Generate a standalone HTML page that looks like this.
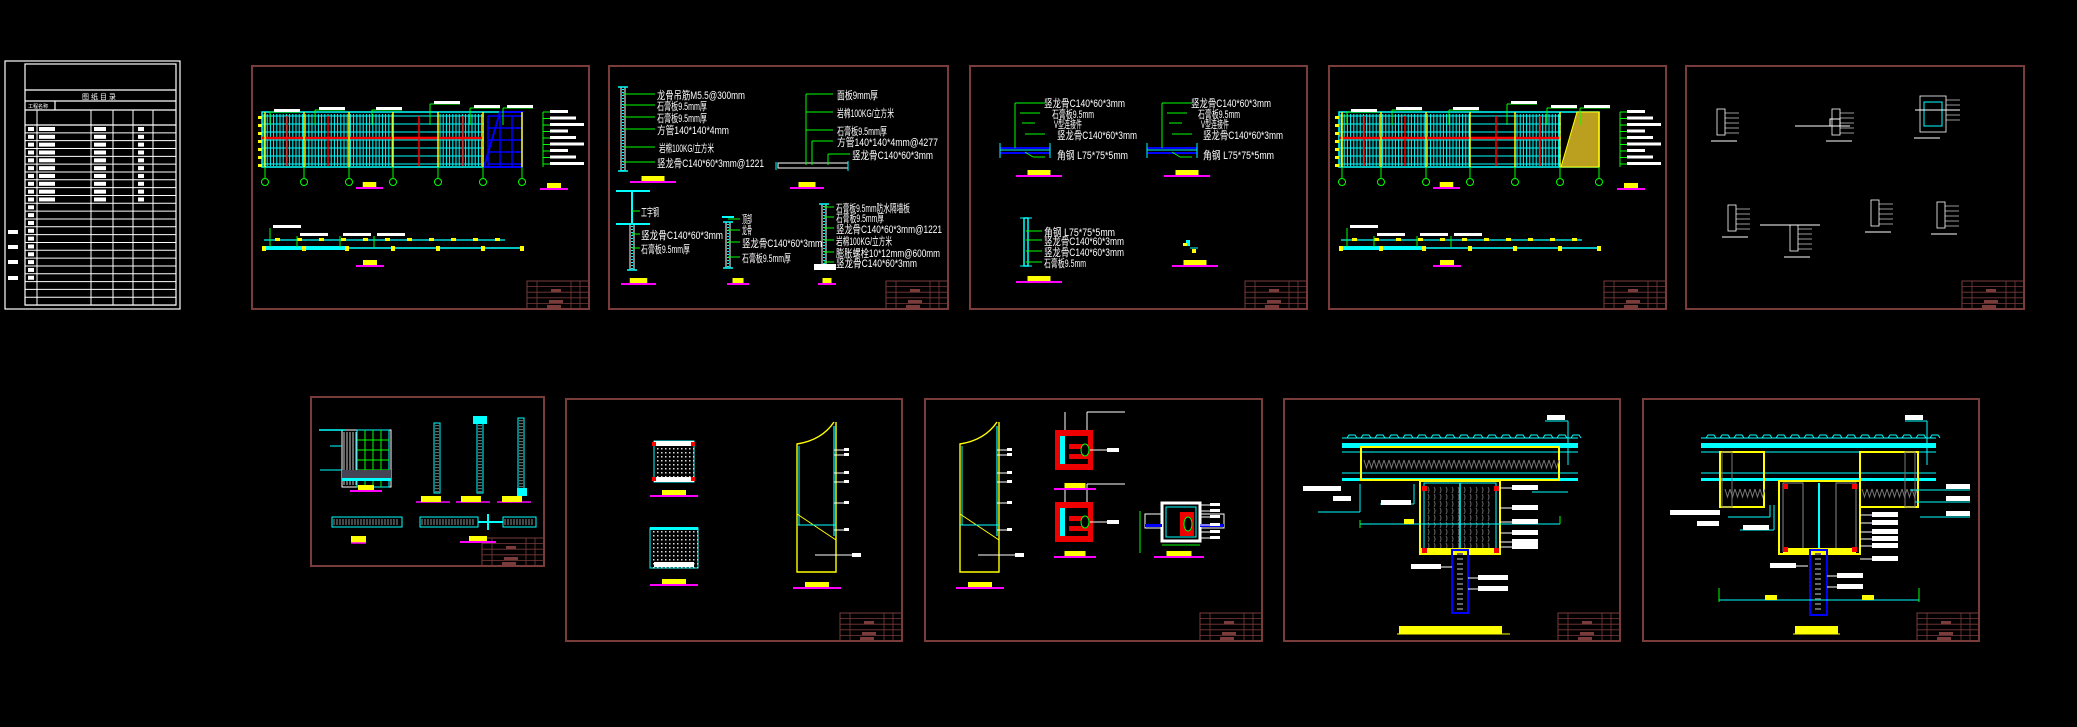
<!DOCTYPE html>
<html><head><meta charset="utf-8">
<style>
html,body{margin:0;padding:0;background:#000;width:2077px;height:727px;overflow:hidden}
svg{display:block}
text{font-family:"Liberation Sans","Noto Sans CJK SC",sans-serif}
</style></head>
<body>
<svg id="s" width="2077" height="727" viewBox="0 0 2077 727" xmlns="http://www.w3.org/2000/svg">
<rect width="2077" height="727" fill="#000"/>
<g stroke="#fff" fill="none" stroke-width="1.2">
<rect x="5" y="61" width="175" height="248"/>
<rect x="25" y="64" width="151" height="241"/>
<line x1="25" y1="90" x2="176" y2="90"/><line x1="25" y1="101" x2="176" y2="101"/><line x1="25" y1="110" x2="176" y2="110"/><line x1="25" y1="125" x2="176" y2="125"/>
<line x1="55" y1="101" x2="55" y2="110"/>
</g>
<g id="idx" stroke="#fff" stroke-width="1"></g>
<text x="82" y="99" fill="#fff" font-size="7">图 纸 目 录</text>
<text x="28" y="108" fill="#fff" font-size="5">工程名称</text>
<g id="sheets"></g>
<g font-size="11" fill="#fff" lengthAdjust="spacingAndGlyphs">
<text x="657" y="99" textLength="88" lengthAdjust="spacingAndGlyphs">龙骨吊筋M5.5@300mm</text>
<text x="657" y="110" textLength="50" lengthAdjust="spacingAndGlyphs">石膏板9.5mm厚</text>
<text x="657" y="122" textLength="50" lengthAdjust="spacingAndGlyphs">石膏板9.5mm厚</text>
<text x="657" y="134" textLength="72" lengthAdjust="spacingAndGlyphs">方管140*140*4mm</text>
<text x="659" y="152" textLength="55" lengthAdjust="spacingAndGlyphs">岩棉100KG/立方米</text>
<text x="657" y="167" textLength="107" lengthAdjust="spacingAndGlyphs">竖龙骨C140*60*3mm@1221</text>
<text x="837" y="99" textLength="41" lengthAdjust="spacingAndGlyphs">面板9mm厚</text>
<text x="837" y="117" textLength="57" lengthAdjust="spacingAndGlyphs">岩棉100KG/立方米</text>
<text x="837" y="135" textLength="50" lengthAdjust="spacingAndGlyphs">石膏板9.5mm厚</text>
<text x="837" y="146" textLength="101" lengthAdjust="spacingAndGlyphs">方管140*140*4mm@4277</text>
<text x="852" y="159" textLength="81" lengthAdjust="spacingAndGlyphs">竖龙骨C140*60*3mm</text>
<text x="641" y="216" textLength="18" lengthAdjust="spacingAndGlyphs">工字钢</text>
<text x="641" y="239" textLength="82" lengthAdjust="spacingAndGlyphs">竖龙骨C140*60*3mm</text>
<text x="641" y="253" textLength="49" lengthAdjust="spacingAndGlyphs">石膏板9.5mm厚</text>
<text x="742" y="223" textLength="10" lengthAdjust="spacingAndGlyphs">顶部</text>
<text x="742" y="234" textLength="10" lengthAdjust="spacingAndGlyphs">龙骨</text>
<text x="742" y="247" textLength="80" lengthAdjust="spacingAndGlyphs">竖龙骨C140*60*3mm</text>
<text x="742" y="262" textLength="49" lengthAdjust="spacingAndGlyphs">石膏板9.5mm厚</text>
<text x="836" y="212" textLength="74" lengthAdjust="spacingAndGlyphs">石膏板9.5mm防水隔墙板</text>
<text x="836" y="222" textLength="48" lengthAdjust="spacingAndGlyphs">石膏板9.5mm厚</text>
<text x="836" y="233" textLength="106" lengthAdjust="spacingAndGlyphs">竖龙骨C140*60*3mm@1221</text>
<text x="836" y="245" textLength="56" lengthAdjust="spacingAndGlyphs">岩棉100KG/立方米</text>
<text x="836" y="257" textLength="104" lengthAdjust="spacingAndGlyphs">膨胀螺栓10*12mm@600mm</text>
<text x="836" y="267" textLength="81" lengthAdjust="spacingAndGlyphs">竖龙骨C140*60*3mm</text>
<text x="1044" y="107" textLength="81" lengthAdjust="spacingAndGlyphs">竖龙骨C140*60*3mm</text>
<text x="1052" y="118" textLength="42" lengthAdjust="spacingAndGlyphs">石膏板9.5mm</text>
<text x="1054" y="128" textLength="28" lengthAdjust="spacingAndGlyphs">V型连接件</text>
<text x="1057" y="139" textLength="80" lengthAdjust="spacingAndGlyphs">竖龙骨C140*60*3mm</text>
<text x="1057" y="159" textLength="71" lengthAdjust="spacingAndGlyphs">角钢 L75*75*5mm</text>
<text x="1191" y="107" textLength="80" lengthAdjust="spacingAndGlyphs">竖龙骨C140*60*3mm</text>
<text x="1198" y="118" textLength="42" lengthAdjust="spacingAndGlyphs">石膏板9.5mm</text>
<text x="1201" y="128" textLength="28" lengthAdjust="spacingAndGlyphs">V型连接件</text>
<text x="1203" y="139" textLength="80" lengthAdjust="spacingAndGlyphs">竖龙骨C140*60*3mm</text>
<text x="1203" y="159" textLength="71" lengthAdjust="spacingAndGlyphs">角钢 L75*75*5mm</text>
<text x="1044" y="236" textLength="71" lengthAdjust="spacingAndGlyphs">角钢 L75*75*5mm</text>
<text x="1044" y="245" textLength="80" lengthAdjust="spacingAndGlyphs">竖龙骨C140*60*3mm</text>
<text x="1044" y="256" textLength="80" lengthAdjust="spacingAndGlyphs">竖龙骨C140*60*3mm</text>
<text x="1044" y="267" textLength="42" lengthAdjust="spacingAndGlyphs">石膏板9.5mm</text>
</g>
</svg>
<script>
const S=document.getElementById('s'),NS='http://www.w3.org/2000/svg';
function el(t,a,p){const e=document.createElementNS(NS,t);for(const k in a)e.setAttribute(k,a[k]);(p||S).appendChild(e);return e}
function L(x1,y1,x2,y2,c,w){return el('line',{x1,y1,x2,y2,stroke:c,'stroke-width':w||1})}
function R(x,y,w,h,c,f,sw){return el('rect',{x,y,width:w,height:h,stroke:c||'none',fill:f||'none','stroke-width':sw||1})}
const BR='#7a3b3b';
const ix=document.getElementById('idx');
for(let i=0;i<=23;i++){const y=125+i*7.83;el('line',{x1:25,y1:y,x2:176,y2:y},ix)}
[37,91,113,133,153].forEach(x=>el('line',{x1:x,y1:110,x2:x,y2:305},ix));
for(let i=0;i<10;i++){R(39,127+i*7.83,16,4,null,'#fff');R(94,127+i*7.83,12,4,null,'#fff');R(138,127+i*7.83,6,4,null,'#fff');}
for(let i=0;i<20;i++)R(28,127+i*7.83,6,4,null,'#fff');
[230,245,260,276].forEach(y=>R(8,y,10,4,null,'#fff'));
function sheet(x1,y1,x2,y2){R(x1,y1,x2-x1,y2-y1,BR,null,2);
 const tw=62,th=28,tx=x2-tw,ty=y2-th;R(tx,ty,tw,th,BR,null,1);
 for(let i=1;i<5;i++)L(tx,ty+i*th/5,x2,ty+i*th/5,BR,0.8);
 L(tx+10,ty,tx+10,y2,BR,0.8);L(x2-18,ty,x2-18,y2,BR,0.8);L(x2-9,ty,x2-9,y2,BR,0.8);
 R(tx+24,ty+8,10,3,null,BR);R(tx+22,ty+19,14,3,null,BR);R(tx+20,y2-4,14,3,null,BR);}
[[252,66,589,309],[609,66,948,309],[970,66,1307,309],[1329,66,1666,309],[1686,66,2024,309],
 [311,397,544,566],[566,399,902,641],[925,399,1262,641],[1284,399,1620,641],[1643,399,1979,641]].forEach(s=>sheet(...s));
function tag(x,y,w){R(x+w*0.25,y-5,w*0.5,5,null,'#ff0');L(x,y+1,x+w,y+1,'#f0f',2);}
function elev(ox,redblue){
 R(ox+262,112,260,55,'#0ff',null,1.5);
 for(let x=ox+264;x<ox+484;x+=3.2){if(x>ox+394&&x<ox+437)continue;L(x,114,x,166,'#0ff',1)}
 for(let y=116;y<166;y+=8)L(ox+262,y,ox+484,y,'#0ff',1);
 L(ox+262,138,ox+484,138,'#f00',2.5);[ox+287,ox+328,ox+419,ox+463].forEach(x=>L(x,116,x,166,'#f00',1.5));
 if(redblue){for(let y=116;y<167;y+=12)L(ox+488,y,ox+522,y,'#00f',1.5);for(let x=ox+488;x<=ox+522;x+=12)L(x,116,x,167,'#00f',1.5);el('polygon',{points:`${ox+500},112 ${ox+522},112 ${ox+522},167 ${ox+484},167`,fill:'none',stroke:'#00f','stroke-width':2})}
 else{el('polygon',{points:`${ox+500},112 ${ox+522},112 ${ox+522},167 ${ox+484},167`,fill:'#bba020',stroke:'#ff0'})}
 [ox+265,ox+304,ox+349,ox+393,ox+438,ox+483,ox+522].forEach(x=>{L(x,167,x,178,'#0f0');el('circle',{cx:x,cy:182,r:3.5,stroke:'#0f0',fill:'none'});L(x,112,x,167,'#ff0',1.5)});
 for(let y=116;y<167;y+=8)R(ox+258,y,4,3,null,'#ff0');
 L(ox+264,240,ox+505,240,'#0ff',1.2);L(ox+264,248,ox+523,248,'#0ff',1.5);R(ox+265,246,80,4,null,'#0ff');
 for(let x=ox+275;x<ox+500;x+=22)R(x,238,5,3,null,'#ff0');
 [ox+264,ox+304,ox+347,ox+393,ox+438,ox+483,ox+522].forEach(x=>R(x-2,246,4,5,null,'#ff0'));
 [[ox+270,112],[ox+315,110],[ox+372,110],[ox+430,104],[ox+470,108],[ox+503,108]].forEach(([x,y])=>{L(x,y,x,125,'#0f0');L(x,y,x+30,y,'#0f0');R(x+4,y-3,26,3,null,'#fff')});
 [[ox+270,228],[ox+297,236],[ox+340,236],[ox+374,236]].forEach(([x,y])=>{L(x,y,x,247,'#0f0');R(x+3,y-3,28,3,null,'#fff')});
 for(let i=0;i<9;i++){L(ox+543,112+i*6.5,ox+550,112+i*6.5,'#0f0');R(ox+550,110+i*6.5,18+(i%3)*8,3,null,'#fff')}
 L(ox+543,112,ox+543,167,'#0f0');
 tag(ox+356,187,27);tag(ox+540,188,28);tag(ox+356,265,28);
}
elev(0,true);elev(1077,false);
function col(x,y1,y2){R(x-2,y1,4,y2-y1,'#fff',null,1);for(let y=y1+2;y<y2;y+=3)R(x-1,y,2,1,null,'#0ff');L(x-5,y1,x+5,y1,'#0ff',1.5);L(x-5,y2,x+5,y2,'#0ff',1.5)}
col(623,87,171);[[623,94],[623,105],[623,117],[623,129],[623,147],[623,162]].forEach(([x,y])=>L(x,y,x+32,y,'#0f0'));
tag(630,181,46);
R(778,163,70,5,'#fff',null,1);L(776,162,776,170,'#0ff');L(848,161,848,171,'#0ff');
L(806,94,806,165,'#0f0');[94,112,130].forEach(y=>L(806,y,833,y,'#0f0'));L(812,141,812,165,'#0f0');L(812,141,833,141,'#0f0');L(828,154,828,165,'#0f0');L(828,154,850,154,'#0f0');
tag(790,187,34);
L(616,191,650,191,'#0ff',2);L(632,191,632,224,'#0ff',2);L(616,224,650,224,'#0ff',2);col(632,224,270);L(632,211,640,211,'#0f0');L(632,234,640,234,'#0f0');L(632,248,640,248,'#0f0');tag(621,283,35);
R(722,216,12,2,null,'#0ff');col(728,222,268);[219,230,242,257].forEach(y=>L(728,y,740,y,'#0f0'));tag(727,283,22);
col(824,204,265);[207,217,228,240,252,262].forEach(y=>L(824,y,834,y,'#0f0'));R(814,264,22,6,null,'#fff');tag(818,283,18);
function cross(x,y){L(x-25,y,x+25,y,'#00f',2);L(x-25,y+5,x+25,y+5,'#00f',2);L(x-25,y+2,x+25,y+2,'#0ff',1);L(x-25,y-5,x-25,y+10,'#0ff');L(x+25,y-5,x+25,y+10,'#0ff');L(x-10,y-45,x-10,y,'#0f0');L(x-10,y-45,x+20,y-45,'#0f0');L(x-5,y-35,x+15,y-35,'#0f0');L(x-3,y-25,x+10,y-25,'#0f0');L(x,y-14,x+20,y-14,'#0f0');L(x,y+4,x+8,y+9,'#0f0');L(x+8,y+9,x+20,y+9,'#0f0')}
cross(1025,148);cross(1172,148);tag(1016,175,46);tag(1164,175,46);
R(1024,218,4,48,'#0ff',null,1.5);L(1020,218,1032,218,'#0ff');L(1020,266,1032,266,'#0ff');[231,240,251,262].forEach(y=>L(1026,y,1042,y,'#0f0'));tag(1016,281,46);
R(1186,240,4,6,null,'#0ff');R(1183,243,4,3,null,'#ff0');R(1192,249,4,4,null,'#ff0');L(1190,248,1198,248,'#0ff');tag(1172,265,46);
[[1717,109],[1832,109],[1920,96],[1728,205],[1790,225],[1871,200],[1937,202]].forEach(([x,y],i)=>{
 R(x,y,i==2?26:8,i==2?36:26,'#fff',null,0.8);if(i==2){R(x+4,y+6,18,24,'#0ff');}
 for(let k=0;k<5;k++)L(x+(i==2?26:8),y+4+k*5,x+(i==2?40:22),y+4+k*5,'#fff',0.6);
 L(x-6,y+(i==2?42:32),x+20,y+(i==2?42:32),'#fff',1);});
L(1795,126,1850,126,'#fff');R(1830,119,10,7,'#fff');L(1915,110,1960,110,'#fff');L(1760,225,1820,225,'#fff');
R(342,430,49,57,'#fff',null,1);for(let x=344;x<357;x+=3)L(x,432,x,485,'#fff',0.8);
R(357,430,32,57,'#0ff');for(let x=365;x<389;x+=8)L(x,430,x,487,'#0f0');for(let y=440;y<485;y+=10)L(357,y,389,y,'#0f0');
R(342,470,49,8,null,'#445');R(342,478,49,3,null,'#0ff');tag(350,490,32);
L(319,430,345,430,'#0ff',1.5);L(330,446,342,446,'#0ff');L(320,470,342,470,'#0ff');
[[437,423,493],[480,423,493],[521,418,493]].forEach(([x,a,b])=>{R(x-3,a,6,b-a,'#0ff',null,1);for(let y=a+2;y<b;y+=3)R(x-2,y,4,1.2,null,'#666');});
R(473,416,14,8,null,'#0ff');R(517,488,10,8,null,'#0ff');
[[416,502],[456,502],[497,502]].forEach(([x,y])=>{L(x,y,x+34,y,'#f0f',1.5);R(x+5,y-6,20,6,null,'#ff0')});
R(332,517,70,10,'#0ff');for(let x=334;x<400;x+=3)L(x,519,x,525,'#ccc',0.7);
R(420,517,58,10,'#0ff');for(let x=422;x<476;x+=3)L(x,519,x,525,'#ccc',0.7);
R(503,517,33,10,'#0ff');for(let x=505;x<534;x+=3)L(x,519,x,525,'#ccc',0.7);L(478,522,503,522,'#0ff',2);L(488,514,488,530,'#0ff',2);
R(351,536,15,7,null,'#ff0');L(351,543,366,543,'#f0f',1.5);tag(460,541,36);
function hatch(x,y,w,h,c){R(x,y,w,h,'#0ff',null,1);for(let i=x+3;i<x+w;i+=4)for(let j=y+3;j<y+h;j+=4)R(i,j,1.5,1.5,null,c||'#ddd');}
hatch(654,441,40,41);R(654,441,40,5,null,'#fff');R(654,477,40,5,null,'#fff');[654,693].forEach(x=>{R(x-2,442,4,4,null,'#f00');R(x-2,477,4,4,null,'#f00')});
hatch(650,528,48,40);R(650,527,48,3,null,'#0ff');R(654,562,40,5,null,'#fff');
tag(650,495,48);tag(650,584,48);
function tower(x){el('path',{d:`M${x+37} 422 Q${x+25} 440 ${x} 444 L${x} 572 L${x+39} 572 L${x+39} 422`,fill:'none',stroke:'#ff0','stroke-width':1.4});
 L(x+37,426,x+37,536,'#0ff',1.2);L(x+2,446,x+2,525,'#0ff',1);L(x,514,x+39,540,'#ff0',1);L(x,525,x+39,525,'#0ff',1);
 [450,455,473,482,503,530].forEach(y=>{L(x+37,y,x+47,y,'#fff');R(x+47,y-2,5,3,null,'#fff')});L(x+18,555,x+55,555,'#fff');R(x+55,553,9,4,null,'#fff');tag(x-4,587,48);}
tower(797);tower(960);
function redbox(x,y){R(x,y,38,40,null,'#e00');R(x+5,y+6,28,28,null,'#000');R(x+5,y+6,5,28,null,'#0ff');R(x+14,y+14,19,5,null,'#e00');R(x+14,y+24,19,5,null,'#e00');el('ellipse',{cx:x+30,cy:y+20,rx:4,ry:6,stroke:'#0f0',fill:'#000'});
 L(x+10,y-18,x+10,y,'#fff');L(x+32,y-18,x+32,y,'#fff');L(x+32,y-18,x+70,y-18,'#fff');L(x+35,y+20,x+52,y+20,'#fff');R(x+52,y+18,12,4,null,'#fff');}
redbox(1055,430);redbox(1055,502);tag(1054,488,42);tag(1054,556,42);
R(1162,503,38,38,'#fff',null,3);R(1166,507,30,30,'#0ff');R(1180,512,14,24,null,'#e00');el('ellipse',{cx:1188,cy:524,rx:4,ry:7,stroke:'#0f0',fill:'#000'});
R(1145,514,17,14,'#fff');R(1145,524,17,3,null,'#00f');R(1200,514,24,14,'#fff');R(1200,524,24,3,null,'#00f');L(1140,511,1140,553,'#0f0');L(1162,545,1200,545,'#0f0');
[505,511,517,525,532,538].forEach(y=>{L(1200,y,1210,y,'#fff');R(1210,y-2,10,3,null,'#fff')});tag(1154,556,50);
function ceil(x1,x2){L(x1,438,x2,438,'#0ff',1);R(x1,443,x2-x1,5,null,'#0ff');L(x1,452,x2,452,'#0ff',1);L(x1,473,x2,473,'#0ff',1);R(x1,478,x2-x1,3,null,'#0ff');for(let x=x1+5;x<x2-5;x+=14){el('path',{d:`M${x} 438 l2 -3 h6 l2 3`,stroke:'#0ff',fill:'none'})}}
ceil(1342,1578);
R(1361,447,198,33,'#ff0',null,2);for(let x=1364;x<1556;x+=5)el('path',{d:`M${x} 460 l2.5 8 l2.5 -8`,stroke:'#777',fill:'none'});
R(1420,481,80,73,'#ff0',null,2);R(1424,483,72,70,'#0ff',null,1);for(let x=1428;x<1494;x+=6)for(let y=487;y<550;y+=7)el('path',{d:`M${x} ${y} q2 3 0 6`,stroke:'#666',fill:'none'});
L(1460,483,1460,550,'#0ff',1.5);R(1420,548,80,6,null,'#ff0');[[1422,486],[1494,486],[1422,548],[1494,548]].forEach(([x,y])=>R(x,y,5,5,null,'#f00'));
R(1452,550,16,63,'#00f',null,2);for(let y=553;y<610;y+=5)R(1457,y,6,2,null,'#666');
L(1318,512,1360,512,'#0ff');L(1360,484,1360,512,'#0ff');L(1380,504,1414,504,'#0ff');L(1414,484,1414,504,'#0ff');L(1360,524,1560,524,'#0ff');L(1360,520,1360,528,'#0f0');L(1560,516,1560,524,'#0f0');
L(1568,421,1568,465,'#0ff');L(1545,421,1568,421,'#0ff');R(1547,415,18,5,null,'#fff');L(1532,492,1568,492,'#0ff');
[[1500,488],[1500,508],[1500,522],[1500,533],[1500,542],[1500,547]].forEach(([x,y])=>{L(x,y,x+12,y,'#fff');R(x+12,y-3,26,5,null,'#fff')});
[[1415,567],[1430,578],[1430,589]].forEach(([x,y],i)=>{L(i?1468:1440,y,i?1478:1452,y,'#fff');R(i?1478:1411,y-3,30,5,null,'#fff')});
R(1303,486,38,5,null,'#fff');R(1333,496,18,5,null,'#fff');R(1381,500,30,5,null,'#fff');
R(1399,626,103,8,null,'#ff0');L(1397,634,1510,634,'#ff0',1);R(1404,519,10,5,null,'#ff0');
ceil(1701,1936);
R(1720,452,44,55,'#ff0',null,2);R(1860,452,58,55,'#ff0',null,2);R(1722,452,10,55,'#777');R(1905,452,10,55,'#777');
for(let x=1725;x<1762;x+=5)el('path',{d:`M${x} 489 l2.5 8 l2.5 -8`,stroke:'#777',fill:'none'});for(let x=1862;x<1915;x+=5)el('path',{d:`M${x} 489 l2.5 8 l2.5 -8`,stroke:'#777',fill:'none'});
R(1779,481,81,73,'#ff0',null,2);R(1783,483,20,68,'#888');R(1836,483,20,68,'#888');L(1819,483,1819,550,'#0ff',2);R(1783,548,73,6,null,'#ff0');
[[1783,484],[1852,484],[1783,547],[1852,547]].forEach(([x,y])=>R(x,y,5,5,null,'#f00'));
R(1810,550,17,65,'#00f',null,2);for(let y=553;y<612;y+=5)R(1815,y,6,2,null,'#666');
L(1719,600,1919,600,'#0ff');L(1719,588,1719,602,'#0f0');L(1919,588,1919,602,'#0f0');R(1765,595,12,5,null,'#ff0');R(1862,595,12,5,null,'#ff0');
L(1927,421,1927,465,'#0ff');L(1905,421,1927,421,'#0ff');R(1905,415,18,5,null,'#fff');
[[1910,490,1970,490],[1915,502,1970,502],[1920,517,1970,517]].forEach(a=>{L(...a,'#0ff');R(a[2]-24,a[3]-6,24,5,null,'#fff')});
L(1728,517,1770,517,'#0ff');L(1770,505,1770,517,'#0ff');R(1670,510,50,5,null,'#fff');R(1697,521,22,5,null,'#fff');L(1740,530,1774,530,'#0ff');L(1774,505,1774,530,'#0ff');R(1743,525,26,5,null,'#fff');
[[1860,515],[1860,523],[1860,532],[1860,539],[1860,546],[1860,559]].forEach(([x,y])=>{L(x,y,x+12,y,'#fff');R(x+12,y-3,26,5,null,'#fff')});
[[1827,576],[1827,587]].forEach(([x,y])=>{L(x,y,x+10,y,'#fff');R(x+10,y-3,26,5,null,'#fff')});L(1770,566,1808,566,'#fff');R(1770,563,26,5,null,'#fff');
R(1795,626,43,8,null,'#ff0');L(1793,634,1840,634,'#ff0',1);
</script>
</body></html>
